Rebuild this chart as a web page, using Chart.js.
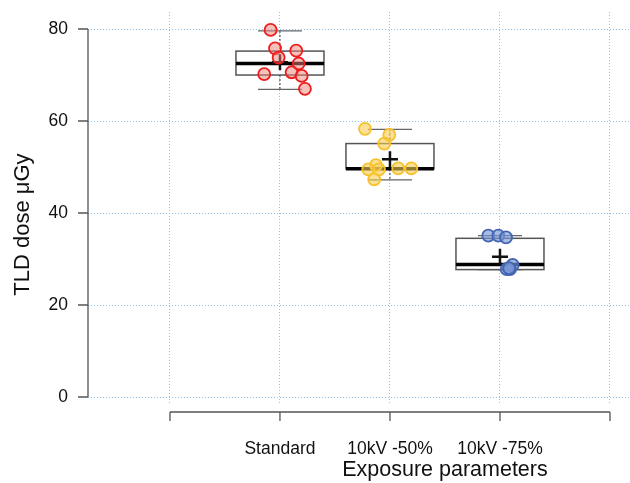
<!DOCTYPE html>
<html>
<head>
<meta charset="utf-8">
<script src="https://cdn.jsdelivr.net/npm/chart.js@4/dist/chart.umd.min.js"></script>
<style>
  body { margin: 0; background: #fff; }
  canvas { display: block; }
</style>
</head>
<body>
<canvas id="cntx_dose" width="630" height="483"></canvas>
<script>
// groups on the x axis (positions 1..3)
const categories = ["Standard", "10kV -50%", "10kV -75%"];
const xTicks = [0, 1, 2, 3, 4];
const yTicks = [0, 20, 40, 60, 80];
const xTitle = "Exposure parameters";
const yTitle = "TLD dose μGy";

// individual TLD readings and their horizontal jitter
const standardDose = [79.8, 75.8, 75.3, 73.8, 72.5, 70.2, 70.6, 69.8, 67.0];
const standardJitter = [-0.085, -0.045, 0.148, -0.012, 0.17, -0.143, 0.106, 0.197, 0.227];
const half50Dose = [58.3, 57.0, 55.1, 50.4, 49.5, 49.5, 49.7, 49.7, 47.3];
const half50Jitter = [-0.227, -0.006, -0.052, -0.127, -0.197, -0.1, 0.075, 0.194, -0.143];
const quarter75Dose = [35.1, 35.1, 34.7, 28.7, 27.8, 27.8, 28.0];
const quarter75Jitter = [-0.106, -0.015, 0.055, 0.115, 0.061, 0.091, 0.082];

// box statistics per group
const boxMin = [66.9, 47.2, 27.7];
const boxQ1 = [70.0, 49.6, 27.7];
const boxMedian = [72.5, 49.6, 28.8];
const boxQ3 = [75.2, 55.1, 34.5];
const boxMax = [79.6, 58.2, 35.1];
const boxMean = [72.8, 51.7, 30.5];

const FONT = "'Liberation Sans', Arial, Helvetica, sans-serif";
const gridColor = "#8fc1ec";
const axisColor = "#555555";

toPoints = (values, jitter, pos) => values.map((v, i) => ({ x: pos + jitter[i], y: v }));

noPadding = (scale) => {
	scale.paddingTop = 0;
	scale.paddingBottom = 0;
	scale.paddingLeft = 0;
	scale.paddingRight = 0;
};

const boxPlugin = {
	id: "boxes",
	beforeDatasetsDraw: (chart) => {
		const ctx = chart.ctx;
		const xs = chart.scales.x;
		const ys = chart.scales.y;
		ctx.save();
		categories.forEach((c, i) => {
			const pos = i + 1;
			const l = xs.getPixelForValue(pos - 0.4);
			const r = xs.getPixelForValue(pos + 0.4);
			const cl = xs.getPixelForValue(pos - 0.2);
			const cr = xs.getPixelForValue(pos + 0.2);
			const cx = xs.getPixelForValue(pos);
			const yMin = ys.getPixelForValue(boxMin[i]);
			const yQ1 = ys.getPixelForValue(boxQ1[i]);
			const yMed = ys.getPixelForValue(boxMedian[i]);
			const yQ3 = ys.getPixelForValue(boxQ3[i]);
			const yMax = ys.getPixelForValue(boxMax[i]);

			// whiskers (dashed)
			ctx.strokeStyle = "#333333";
			ctx.lineWidth = 1;
			ctx.setLineDash([2, 2]);
			ctx.beginPath();
			ctx.moveTo(cx, yMax); ctx.lineTo(cx, yQ3);
			ctx.moveTo(cx, yQ1); ctx.lineTo(cx, yMin);
			ctx.stroke();
			ctx.setLineDash([]);

			// caps
			ctx.strokeStyle = "#666666";
			ctx.lineWidth = 1.2;
			ctx.beginPath();
			ctx.moveTo(cl, yMax); ctx.lineTo(cr, yMax);
			ctx.moveTo(cl, yMin); ctx.lineTo(cr, yMin);
			ctx.stroke();

			// box
			ctx.fillStyle = "#ffffff";
			ctx.fillRect(l, yQ3, r - l, yQ1 - yQ3);
			ctx.strokeStyle = "#555555";
			ctx.lineWidth = 1.5;
			ctx.strokeRect(l, yQ3, r - l, yQ1 - yQ3);

			// median
			ctx.strokeStyle = "#000000";
			ctx.lineWidth = 3.5;
			ctx.beginPath();
			ctx.moveTo(l, yMed); ctx.lineTo(r, yMed);
			ctx.stroke();
		});
		ctx.restore();
	},
	afterDraw: (chart) => {
		const ctx = chart.ctx;
		const xs = chart.scales.x;
		const ys = chart.scales.y;
		const area = chart.chartArea;
		ctx.save();
		ctx.strokeStyle = axisColor;
		ctx.lineWidth = 1.3;
		// y axis
		const ax = area.left;
		ctx.beginPath();
		ctx.moveTo(ax, ys.getPixelForValue(yTicks[0]));
		ctx.lineTo(ax, ys.getPixelForValue(yTicks[yTicks.length - 1]));
		yTicks.forEach((t) => {
			const y = ys.getPixelForValue(t);
			ctx.moveTo(ax - 10, y); ctx.lineTo(ax, y);
		});
		// x axis
		const ay = area.bottom + 9;
		ctx.moveTo(xs.getPixelForValue(xTicks[0]), ay);
		ctx.lineTo(xs.getPixelForValue(xTicks[xTicks.length - 1]), ay);
		xTicks.forEach((t) => {
			const x = xs.getPixelForValue(t);
			ctx.moveTo(x, ay); ctx.lineTo(x, ay + 9);
		});
		ctx.stroke();

		// axis titles
		ctx.fillStyle = "#111111";
		ctx.textAlign = "center";
		ctx.textBaseline = "middle";
		ctx.font = "21.5px " + FONT;
		ctx.fillText(xTitle, xs.getPixelForValue(2.5), 470);
		ctx.translate(23, ys.getPixelForValue(37.5));
		ctx.rotate(-Math.PI / 2);
		ctx.font = "22px " + FONT;
		ctx.fillText(yTitle, 0, 0);
		ctx.restore();
	},
};

drawChart = (canvas) => {
	const pointStyle = (border, fill) => ({
		type: "scatter",
		pointRadius: 6,
		pointHoverRadius: 6,
		pointBorderWidth: 1.8,
		borderColor: border,
		backgroundColor: fill,
	});
	const myChart = new Chart(canvas, {
		type: "scatter",
		data: {
			datasets: [
				{
					label: categories[0],
					data: toPoints(standardDose, standardJitter, 1),
					...pointStyle("#ee1c1c", "rgba(240,130,120,0.5)"),
				},
				{
					label: categories[1],
					data: toPoints(half50Dose, half50Jitter, 2),
					...pointStyle("#f6c12a", "rgba(248,205,80,0.6)"),
				},
				{
					label: categories[2],
					data: toPoints(quarter75Dose, quarter75Jitter, 3),
					...pointStyle("#4466b0", "rgba(120,150,215,0.65)"),
				},
				{
					label: "mean",
					data: boxMean.map((m, i) => ({ x: i + 1, y: m })),
					type: "scatter",
					pointStyle: "cross",
					pointRadius: 8,
					pointHoverRadius: 8,
					pointBorderWidth: 2.5,
					borderColor: "#111111",
					backgroundColor: "#111111",
				},
			],
		},
		options: {
			responsive: false,
			animation: false,
			devicePixelRatio: 1,
			layout: { autoPadding: false, padding: { top: 12, right: 0, bottom: 0, left: 0 } },
			plugins: {
				legend: { display: false },
				tooltip: { enabled: false },
			},
			scales: {
				x: {
					type: "linear",
					min: -0.745,
					max: 4.182,
					afterFit: (scale) => { scale.height = 80; noPadding(scale); },
					afterBuildTicks: (scale) => { scale.ticks = xTicks.map((v) => ({ value: v })); },
					ticks: {
						padding: 36,
						autoSkip: false,
						maxRotation: 0,
						color: "#111111",
						font: { family: FONT, size: 17.5 },
						callback: (v) => categories[v - 1] || "",
					},
					grid: { color: gridColor, lineWidth: 1, drawTicks: false },
					border: { display: false, dash: [1, 2] },
				},
				y: {
					type: "linear",
					min: -1.3,
					max: 83.7,
					afterFit: (scale) => { scale.width = 88; noPadding(scale); },
					afterBuildTicks: (scale) => { scale.ticks = yTicks.map((v) => ({ value: v })); },
					ticks: {
						padding: 20,
						color: "#111111",
						font: { family: FONT, size: 17.5 },
					},
					grid: { color: gridColor, lineWidth: 1, drawTicks: false },
					border: { display: false, dash: [1, 2] },
				},
			},
		},
		plugins: [boxPlugin],
	});
};
drawChart(document.querySelector("#cntx_dose"));
</script>
</body>
</html>
